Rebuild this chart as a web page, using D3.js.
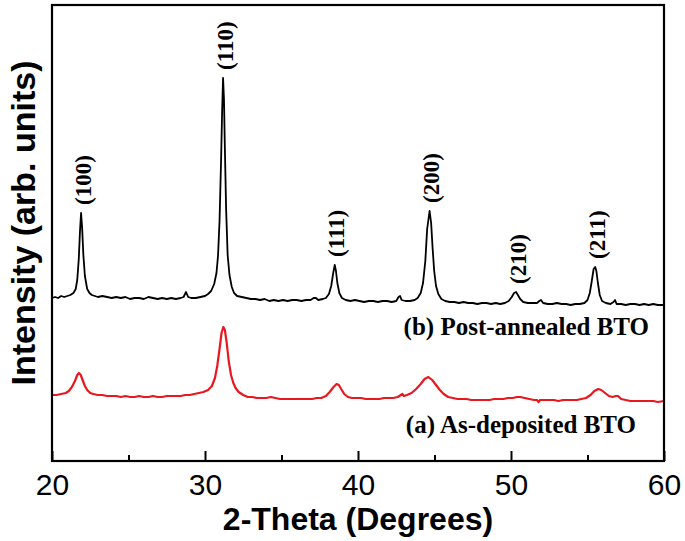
<!DOCTYPE html>
<html>
<head>
<meta charset="utf-8">
<script src="https://cdn.jsdelivr.net/npm/d3@7"></script>
<style>
    body { margin: 0; background: #fff; }
    .tick-label { font-family: "Liberation Sans", Arial, sans-serif; font-size: 30px; fill: #000; }
    .axis-title { font-family: "Liberation Sans", Arial, sans-serif; font-weight: bold; fill: #000; }
    .peak-label, .series-label { font-family: "Liberation Serif", "Times New Roman", serif; font-weight: bold; fill: #000; }
</style>
</head>
<body>
<div class="chart"></div>
<script>
// 2-theta (deg), intensity (arb. units)
var postAnnealed = [
    [20.0, 163], [20.2, 164], [20.4, 163], [20.6, 165], [20.8, 164], [21.0, 165], [21.2, 166],
    [21.4, 168], [21.55, 172], [21.65, 181], [21.75, 202], [21.83, 230], [21.9, 248], [21.97, 233],
    [22.05, 206], [22.15, 185], [22.3, 172], [22.45, 168], [22.6, 166], [22.8, 165], [23.0, 164],
    [23.3, 165], [23.6, 164], [23.9, 163], [24.2, 164], [24.5, 163], [24.8, 164], [25.1, 162],
    [25.4, 163], [25.7, 163], [26.0, 162], [26.3, 164], [26.6, 163], [26.9, 162], [27.2, 163],
    [27.5, 162], [27.8, 163], [28.1, 162], [28.4, 163], [28.6, 164], [28.76, 169], [28.9, 164],
    [29.1, 163], [29.4, 163], [29.7, 164], [30.0, 165], [30.2, 167], [30.4, 170], [30.6, 177],
    [30.75, 188], [30.85, 205], [30.95, 240], [31.05, 300], [31.12, 350], [31.18, 383], [31.24, 362],
    [31.3, 312], [31.38, 252], [31.48, 206], [31.6, 186], [31.75, 174], [31.9, 168], [32.1, 165],
    [32.4, 164], [32.7, 163], [33.0, 162], [33.3, 162], [33.6, 161], [33.9, 162], [34.2, 160],
    [34.5, 161], [34.8, 160], [35.1, 161], [35.4, 160], [35.7, 161], [36.0, 161], [36.3, 160],
    [36.6, 161], [36.9, 161], [37.1, 163], [37.25, 163], [37.4, 161], [37.7, 162], [37.9, 163],
    [38.1, 167], [38.25, 175], [38.38, 188], [38.48, 196], [38.56, 190], [38.65, 178], [38.78, 168],
    [38.95, 163], [39.2, 161], [39.5, 160], [39.8, 161], [40.1, 160], [40.4, 159], [40.7, 160],
    [41.0, 160], [41.3, 159], [41.6, 160], [41.9, 160], [42.2, 159], [42.5, 160], [42.65, 164],
    [42.75, 165], [42.85, 161], [43.1, 160], [43.4, 160], [43.7, 161], [43.9, 163], [44.1, 168],
    [44.25, 178], [44.4, 200], [44.52, 232], [44.68, 250], [44.78, 238], [44.88, 212], [44.98, 190],
    [45.1, 175], [45.25, 167], [45.45, 162], [45.7, 160], [46.0, 159], [46.3, 159], [46.6, 158],
    [46.9, 159], [47.2, 158], [47.5, 158], [47.8, 157], [48.1, 158], [48.4, 158], [48.7, 157],
    [49.0, 158], [49.3, 157], [49.6, 158], [49.85, 160], [50.05, 164], [50.2, 168], [50.33, 169],
    [50.45, 166], [50.6, 162], [50.8, 159], [51.1, 158], [51.4, 158], [51.7, 158], [51.85, 160],
    [51.96, 161], [52.1, 158], [52.4, 157], [52.7, 157], [53.0, 158], [53.3, 157], [53.6, 157],
    [53.9, 156], [54.2, 157], [54.5, 157], [54.8, 158], [55.0, 161], [55.15, 168], [55.28, 180],
    [55.4, 192], [55.5, 194], [55.58, 190], [55.68, 178], [55.8, 166], [55.95, 160], [56.2, 158],
    [56.5, 157], [56.7, 159], [56.8, 161], [56.9, 157], [57.2, 157], [57.5, 156], [57.8, 157],
    [58.1, 157], [58.4, 156], [58.7, 157], [59.0, 156], [59.3, 157], [59.6, 156], [60.0, 156]
];

var asDeposited = [
    [20.0, 66], [20.3, 66], [20.6, 67], [20.9, 68], [21.1, 70], [21.3, 74], [21.5, 80], [21.65, 86],
    [21.76, 88], [21.88, 86], [22.0, 81], [22.15, 75], [22.3, 71], [22.5, 68], [22.7, 67], [23.0, 66],
    [23.3, 66], [23.6, 65], [23.9, 65], [24.2, 65], [24.5, 64], [24.8, 65], [25.1, 64], [25.4, 64],
    [25.7, 65], [26.0, 64], [26.3, 64], [26.6, 65], [26.9, 64], [27.2, 64], [27.5, 65], [27.8, 65],
    [28.1, 65], [28.4, 65], [28.7, 66], [29.0, 66], [29.3, 67], [29.6, 68], [29.9, 69], [30.2, 71],
    [30.45, 75], [30.65, 83], [30.8, 95], [30.95, 112], [31.08, 128], [31.2, 134], [31.3, 131],
    [31.42, 118], [31.55, 100], [31.7, 86], [31.85, 78], [32.0, 73], [32.2, 69], [32.5, 66],
    [32.8, 64], [33.1, 64], [33.4, 63], [33.7, 63], [34.0, 63], [34.3, 64], [34.6, 63], [34.9, 62],
    [35.2, 62], [35.5, 62], [35.8, 62], [36.1, 62], [36.4, 62], [36.7, 62], [37.0, 62], [37.3, 63],
    [37.6, 63], [37.9, 65], [38.15, 69], [38.4, 74], [38.6, 77], [38.75, 76], [38.9, 72], [39.1, 67],
    [39.35, 64], [39.6, 63], [39.9, 63], [40.2, 63], [40.5, 62], [40.8, 62], [41.1, 62], [41.4, 62],
    [41.7, 63], [42.0, 63], [42.3, 63], [42.6, 64], [42.8, 66], [42.9, 67], [43.0, 65], [43.2, 66],
    [43.5, 68], [43.8, 72], [44.1, 77], [44.35, 82], [44.6, 84], [44.85, 81], [45.1, 76], [45.35, 71],
    [45.6, 67], [45.9, 64], [46.2, 63], [46.5, 62], [46.8, 62], [47.1, 62], [47.4, 61], [47.7, 61],
    [48.0, 61], [48.3, 61], [48.6, 61], [48.9, 62], [49.2, 62], [49.5, 62], [49.8, 63], [50.1, 63],
    [50.4, 64], [50.6, 64], [50.9, 63], [51.2, 62], [51.5, 61], [51.7, 61], [51.8, 59], [51.9, 61],
    [52.2, 61], [52.5, 61], [52.8, 61], [53.1, 60], [53.4, 61], [53.7, 61], [54.0, 61], [54.3, 61],
    [54.6, 62], [54.9, 63], [55.2, 66], [55.45, 70], [55.7, 72], [55.9, 71], [56.15, 68], [56.4, 65],
    [56.65, 64], [56.85, 65], [57.0, 65], [57.2, 62], [57.5, 61], [57.8, 60], [58.1, 60], [58.4, 60],
    [58.7, 60], [59.0, 60], [59.3, 60], [59.6, 59], [60.0, 60]
];

var peakLabels = ["(100)", "(110)", "(111)", "(200)", "(210)", "(211)"];
var peakAngles = [21.9, 31.18, 38.48, 44.68, 50.33, 55.5];
var seriesNames = ["(b) Post-annealed BTO", "(a) As-deposited BTO"];
var xTicks = [20, 30, 40, 50, 60];
var xMinorTicks = [25, 35, 45, 55];

function drawChart() {
    var margin = { top: 5, right: 21, bottom: 80, left: 52 };
    const w = 685;
    const h = 541;

    const chartWidth = w - margin.left - margin.right;
    const chartHeight = h - margin.top - margin.bottom;

    const svg = d3.select('.chart')
        .append('svg')
        .attr('width', w)
        .attr('height', h)
        .append('g')
        .attr('transform', 'translate(' + margin.left + ', ' + margin.top + ')');

    const xScale = d3.scaleLinear()
        .domain([20, 60])
        .range([0, chartWidth]);

    const yScale = d3.scaleLinear()
        .domain([0, chartHeight])
        .range([chartHeight, 0]);

    const line = d3.line()
        .x(d => xScale(d[0]))
        .y(d => yScale(d[1]));

    // traces
    svg.append('path')
        .datum(asDeposited)
        .attr('d', line)
        .attr('fill', 'none')
        .attr('stroke', '#e8181e')
        .attr('stroke-width', 2.2)
        .attr('stroke-linejoin', 'round');

    svg.append('path')
        .datum(postAnnealed)
        .attr('d', line)
        .attr('fill', 'none')
        .attr('stroke', '#000')
        .attr('stroke-width', 1.8)
        .attr('stroke-linejoin', 'round');

    // frame
    svg.append('rect')
        .attr('width', chartWidth)
        .attr('height', chartHeight)
        .attr('fill', 'none')
        .attr('stroke', '#000')
        .attr('stroke-width', 2.2);

    // x axis, ticks pointing in
    const xAxis = d3.axisBottom(xScale)
        .tickValues(xTicks)
        .tickSize(-10)
        .tickPadding(13)
        .tickFormat(d3.format('d'));

    const gx = svg.append('g')
        .attr('transform', `translate(0, ${chartHeight})`)
        .call(xAxis);
    gx.select('.domain').remove();
    gx.selectAll('line').attr('stroke', '#000').attr('stroke-width', 2);
    gx.selectAll('text')
        .attr('class', 'tick-label')
        .attr('font-size', null)
        .attr('font-family', null);

    const gxMinor = svg.append('g')
        .attr('transform', `translate(0, ${chartHeight})`)
        .call(d3.axisBottom(xScale).tickValues(xMinorTicks).tickSize(-6).tickFormat(''));
    gxMinor.select('.domain').remove();
    gxMinor.selectAll('line').attr('stroke', '#000').attr('stroke-width', 2);

    // peak labels, rotated
    peakAngles.forEach(function (a, i) {
        var top = d3.max(postAnnealed.filter(d => Math.abs(d[0] - a) < 0.3), d => d[1]);
        svg.append('text')
            .attr('class', 'peak-label')
            .attr('transform', 'translate(' + (xScale(a) + 2) + ',' + (yScale(top) - 8) + ') rotate(-90)')
            .attr('dy', '0.33em')
            .style('font-size', '23px')
            .text(peakLabels[i]);
    });

    // series names
    svg.append('text')
        .attr('class', 'series-label')
        .attr('x', 597)
        .attr('y', 330)
        .attr('text-anchor', 'end')
        .style('font-size', '25px')
        .text(seriesNames[0]);

    svg.append('text')
        .attr('class', 'series-label')
        .attr('x', 584)
        .attr('y', 428)
        .attr('text-anchor', 'end')
        .style('font-size', '25px')
        .text(seriesNames[1]);

    // axis titles
    svg.append('text')
        .attr('class', 'axis-title')
        .attr('x', chartWidth / 2)
        .attr('y', chartHeight + 69)
        .attr('text-anchor', 'middle')
        .style('font-size', '32px')
        .text('2-Theta (Degrees)');

    svg.append('text')
        .attr('class', 'axis-title')
        .attr('transform', 'rotate(-90)')
        .attr('x', -(chartHeight / 2 - 10))
        .attr('y', -17)
        .attr('text-anchor', 'middle')
        .style('font-size', '34px')
        .text('Intensity (arb. units)');
}

drawChart();
</script>
</body>
</html>
